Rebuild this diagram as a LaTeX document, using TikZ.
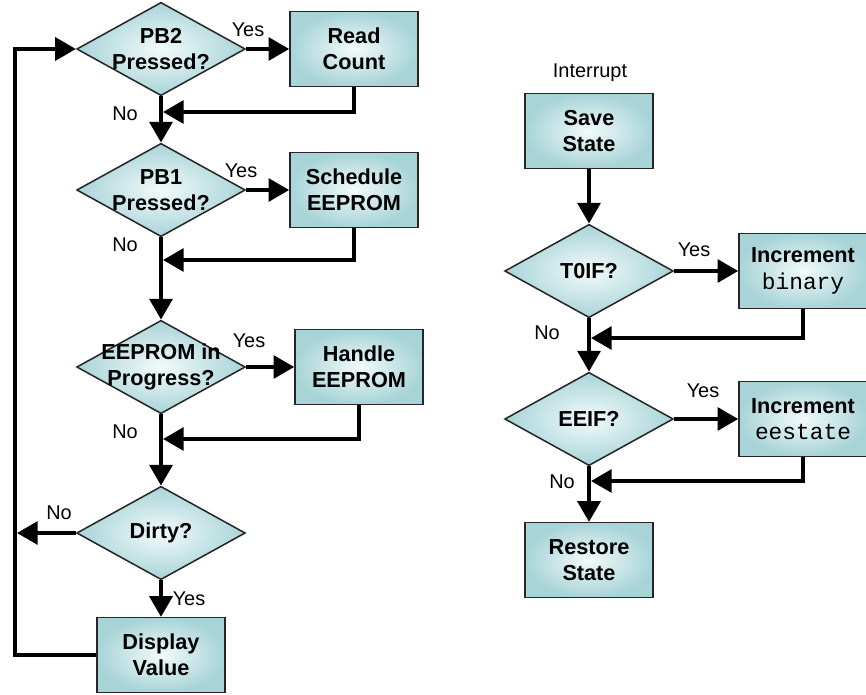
\documentclass[tikz,border=0pt]{standalone}
\usepackage{fontspec}
\setmainfont{Liberation Sans}
\setmonofont{Liberation Mono}
\usepackage{tikz}
\usetikzlibrary{shapes.geometric, arrows.meta, positioning}
\definecolor{boxedge}{RGB}{168,212,216}
\definecolor{boxmid}{RGB}{242,250,250}
\tikzstyle{process} = [rectangle, draw=black!85, line width=1.3pt, inner color=boxmid, outer color=boxedge, minimum width=3.84cm, minimum height=2.24cm, align=center, font=\fontsize{18.5}{22.5}\selectfont\bfseries]
\tikzstyle{decision} = [diamond, draw=black!85, line width=1.3pt, inner color=boxmid, outer color=boxedge, minimum width=5.06cm, minimum height=2.8cm, inner sep=0pt]
\tikzstyle{dtext} = [align=center, font=\fontsize{18.5}{22.5}\selectfont\bfseries]
\tikzstyle{arrow} = [line width=3.5pt, -{Triangle[length=0.62cm,width=0.68cm]}]
\tikzstyle{lbl} = [font=\fontsize{17}{20}\selectfont]
\newcommand{\code}[1]{{\fontsize{19.5}{22.5}\selectfont\ttfamily\mdseries #1}}

\begin{document}
\begin{tikzpicture}[x=0.03cm, y=-0.03cm]
            \useasboundingbox (0,0) rectangle (866,694);
            % main loop
            \node[decision, label={[dtext]center:{PB2\\Pressed?}}] (pb2) at (161,49) {};
            \node[process] (read) at (354,49) {Read\\Count};
            \node[decision, label={[dtext]center:{PB1\\Pressed?}}] (pb1) at (161,190) {};
            \node[process] (sched) at (354,190) {Schedule\\EEPROM};
            \node[decision, label={[dtext]center:{EEPROM in\\Progress?}}] (prog) at (161,367) {};
            \node[process] (handle) at (359,367) {Handle\\EEPROM};
            \node[decision, label={[dtext]center:{Dirty?}}] (dirty) at (161,533) {};
            \node[process] (disp) at (161,655) {Display\\Value};
            % interrupt
            \node[lbl] (intr) at (590,73) {Interrupt};
            \node[process] (save) at (589,131) {Save\\State};
            \node[decision, label={[dtext]center:{T0IF?}}] (t0if) at (589,271) {};
            \node[process] (incb) at (803,271) {Increment\\\code{binary}};
            \node[decision, label={[dtext]center:{EEIF?}}] (eeif) at (589,419) {};
            \node[process] (ince) at (803,419) {Increment\\\code{eestate}};
            \node[process] (rest) at (589,560) {Restore\\State};

            \coordinate (loop) at (15,49);
            \coordinate (j1) at (163,112);
            \coordinate (j2) at (163,260);
            \coordinate (j3) at (163,439);
            \coordinate (j4) at (591,338);
            \coordinate (j5) at (591,481);

            \draw[arrow] (pb2.east) -- (read.west);
            \draw[arrow] (pb1.east) -- (sched.west);
            \draw[arrow] (prog.east) -- (handle.west);
            \draw[arrow] (t0if.east) -- (incb.west);
            \draw[arrow] (eeif.east) -- (ince.west);
            \draw[arrow] (pb2.south) -- (pb1.north);
            \draw[arrow] (pb1.south) -- (prog.north);
            \draw[arrow] (prog.south) -- (dirty.north);
            \draw[arrow] (dirty.south) -- (disp.north);
            \draw[arrow] (save.south) -- (t0if.north);
            \draw[arrow] (t0if.south) -- (eeif.north);
            \draw[arrow] (eeif.south) -- (rest.north);
            \draw[arrow] (read.south) |- (j1);
            \draw[arrow] (sched.south) |- (j2);
            \draw[arrow] (handle.south) |- (j3);
            \draw[arrow] (incb.south) |- (j4);
            \draw[arrow] (ince.south) |- (j5);
            \draw[arrow] (dirty.west) -- ([xshift=1.7pt]dirty.west -| loop);
            \draw[arrow] (disp.west) -| (loop) |- (pb2.west);

            \foreach \n/\p in {1/{(248,30)}, 2/{(241,171)}, 3/{(249,341)}, 4/{(189,599)}, 5/{(694,250)}, 6/{(703,391)}} {
                \node[lbl] (yes\n) at \p {Yes};
            }
            \foreach \n/\p in {1/{(125,114)}, 2/{(125,245)}, 3/{(125,432)}, 4/{(59,513)}, 5/{(547,333)}, 6/{(562,482)}} {
                \node[lbl] (no\n) at \p {No};
            }
\end{tikzpicture}
\end{document}
